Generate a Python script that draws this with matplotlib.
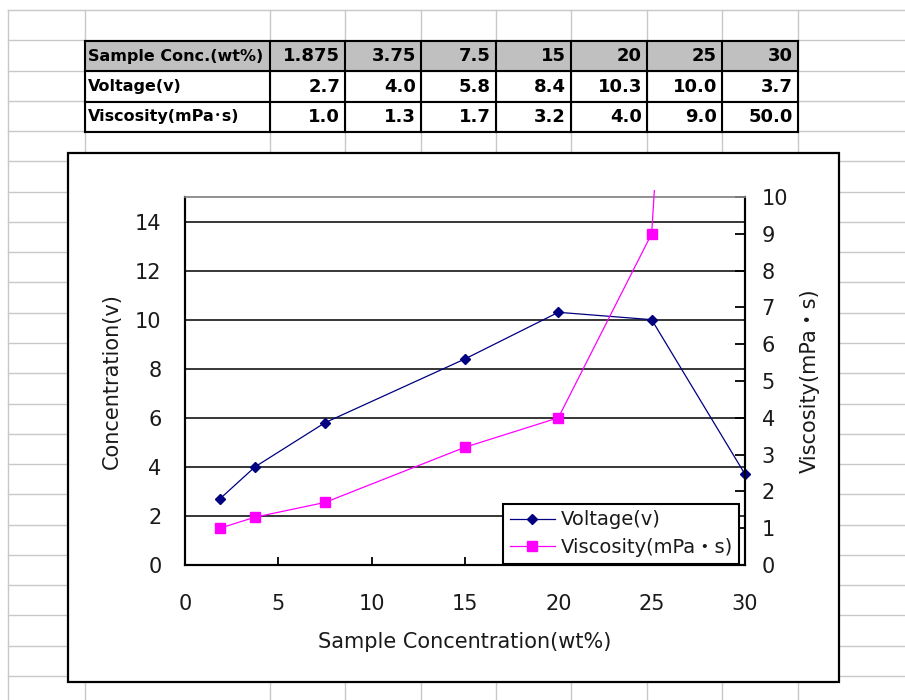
import matplotlib
matplotlib.use('Agg')
import matplotlib.pyplot as plt
from matplotlib.patches import Rectangle
from matplotlib.lines import Line2D

# ---------------- data ----------------
conc = [1.875, 3.75, 7.5, 15, 20, 25, 30]
voltage = [2.7, 4.0, 5.8, 8.4, 10.3, 10.0, 3.7]
viscosity = [1.0, 1.3, 1.7, 3.2, 4.0, 9.0, 50.0]
conc_labels = ['1.875', '3.75', '7.5', '15', '20', '25', '30']
row_names = ['Sample Conc.(wt%)', 'Voltage(v)', 'Viscosity(mPa･s)']
left_ticks = [0, 2, 4, 6, 8, 10, 12, 14]
right_ticks = [0, 1, 2, 3, 4, 5, 6, 7, 8, 9, 10]
x_ticks = [0, 5, 10, 15, 20, 25, 30]

plt.rcParams['font.family'] = ['DejaVu Sans', 'Noto Sans CJK JP']

W, H = 905, 700
fig = plt.figure(figsize=(W / 100, H / 100), dpi=100)
fig.patch.set_facecolor('white')


def fx(px):
    return px / W


def fy(py):
    return 1 - py / H


# ---------------- spreadsheet grid ----------------
grid_c = '#c8c8c8'
col_lines = [8, 85, 270, 345, 421, 496, 571, 647, 722, 798]
row0, row_h = 10, 30.27
for x in col_lines:
    fig.add_artist(Line2D([fx(x), fx(x)], [fy(row0), 0], color=grid_c, lw=1.0, zorder=-10))
yy = row0
while yy < H:
    fig.add_artist(Line2D([fx(8), 1], [fy(yy), fy(yy)], color=grid_c, lw=1.0, zorder=-10))
    yy += row_h

# ---------------- table ----------------
tcols = [85, 270, 345, 421, 496, 571, 647, 722, 798]
trows = [41, 71, 102, 132]
fig.add_artist(Rectangle((fx(tcols[0]), fy(trows[1])), fx(tcols[-1]) - fx(tcols[0]),
                         (trows[1] - trows[0]) / H, transform=fig.transFigure,
                         facecolor='#c0c0c0', edgecolor='none', zorder=-4))
for x in tcols:
    fig.add_artist(Line2D([fx(x), fx(x)], [fy(trows[0]), fy(trows[-1])], color='black', lw=1.5, zorder=-3))
for y in trows:
    fig.add_artist(Line2D([fx(tcols[0]), fx(tcols[-1])], [fy(y), fy(y)], color='black', lw=1.5, zorder=-3))

table_rows = [conc_labels,
              ['%.1f' % v for v in voltage],
              ['%.1f' % v for v in viscosity]]
for r, name in enumerate(row_names):
    yc = (trows[r] + trows[r + 1]) / 2
    fig.text(fx(tcols[0] + 3), fy(yc), name, ha='left', va='center', fontsize=11.5,
             fontweight='bold', zorder=-2)
    for c, val in enumerate(table_rows[r]):
        fig.text(fx(tcols[c + 2] - 5), fy(yc), val, ha='right', va='center', fontsize=13,
                 fontweight='bold', zorder=-2)

# ---------------- chart area ----------------
fig.add_artist(Rectangle((fx(68), fy(682)), fx(839) - fx(68), (682 - 153) / H,
                         transform=fig.transFigure, facecolor='white', edgecolor='black',
                         lw=1.6, zorder=-5))

ax = fig.add_axes([fx(185), fy(565), (745 - 185) / W, (565 - 197) / H])
ax2 = ax.twinx()

fs = 15
tc = '#1a1a1a'

ax.set_xlim(0, 30)
ax.set_ylim(0, 15)
ax2.set_ylim(0, 10)
ax.set_xticks(x_ticks)
ax.set_yticks(left_ticks)
ax2.set_yticks(right_ticks)

ax.yaxis.grid(True, color='black', lw=1.1)
ax.set_axisbelow(True)

for a in (ax, ax2):
    a.spines['top'].set_color('#909090')
    a.spines['top'].set_linewidth(1.2)
    a.spines['left'].set_color('black')
    a.spines['left'].set_linewidth(1.5)
    a.spines['bottom'].set_color('black')
    a.spines['bottom'].set_linewidth(1.5)
    a.spines['right'].set_color('black')
    a.spines['right'].set_linewidth(1.5)
ax2.patch.set_visible(False)

ax.tick_params(axis='y', length=0, pad=17, labelsize=fs, labelcolor=tc)
ax.tick_params(axis='x', direction='in', length=6, width=1.3, pad=21, labelsize=fs, labelcolor=tc)
ax2.tick_params(axis='y', direction='in', length=7, width=1.3, pad=12, labelsize=fs, labelcolor=tc)

l1, = ax.plot(conc, voltage, color='#000080', lw=0.9, marker='D', markersize=5,
              label='Voltage(v)', clip_on=False, zorder=3)
l2, = ax2.plot(conc, viscosity, color='#ff00ff', lw=0.9, marker='s', markersize=6.5,
               label='Viscosity(mPa・s)', zorder=3)
clip_rect = Rectangle((0, 0), 1, 1.02, transform=ax2.transAxes)
l2.set_clip_path(clip_rect)

ax.set_ylabel('Concentration(v)', fontsize=fs, color=tc, va='center', ha='center')
ax.yaxis.set_label_coords((112 - 185) / 560, 0.5)
ax.set_xlabel('Sample Concentration(wt%)', fontsize=fs, color=tc, va='center', ha='center')
ax.xaxis.set_label_coords(0.5, (565 - 642) / 368)
ax2.set_ylabel('Viscosity(mPa・s)', fontsize=fs, color=tc, va='center', ha='center', rotation=90)
ax2.yaxis.set_label_coords((810 - 185) / 560, 0.5)

leg = ax2.legend(handles=[l1, l2], loc='lower right', bbox_to_anchor=(0.99, 0.003),
                 fontsize=14, frameon=True, fancybox=False, borderpad=0.35,
                 handlelength=2.3, handletextpad=0.3, labelspacing=0.45, borderaxespad=0)
leg.get_frame().set_edgecolor('black')
leg.get_frame().set_linewidth(1.5)
leg.get_frame().set_facecolor('white')
leg.get_frame().set_alpha(1)
for t in leg.get_texts():
    t.set_color(tc)

fig.savefig('out.png', dpi=100)
